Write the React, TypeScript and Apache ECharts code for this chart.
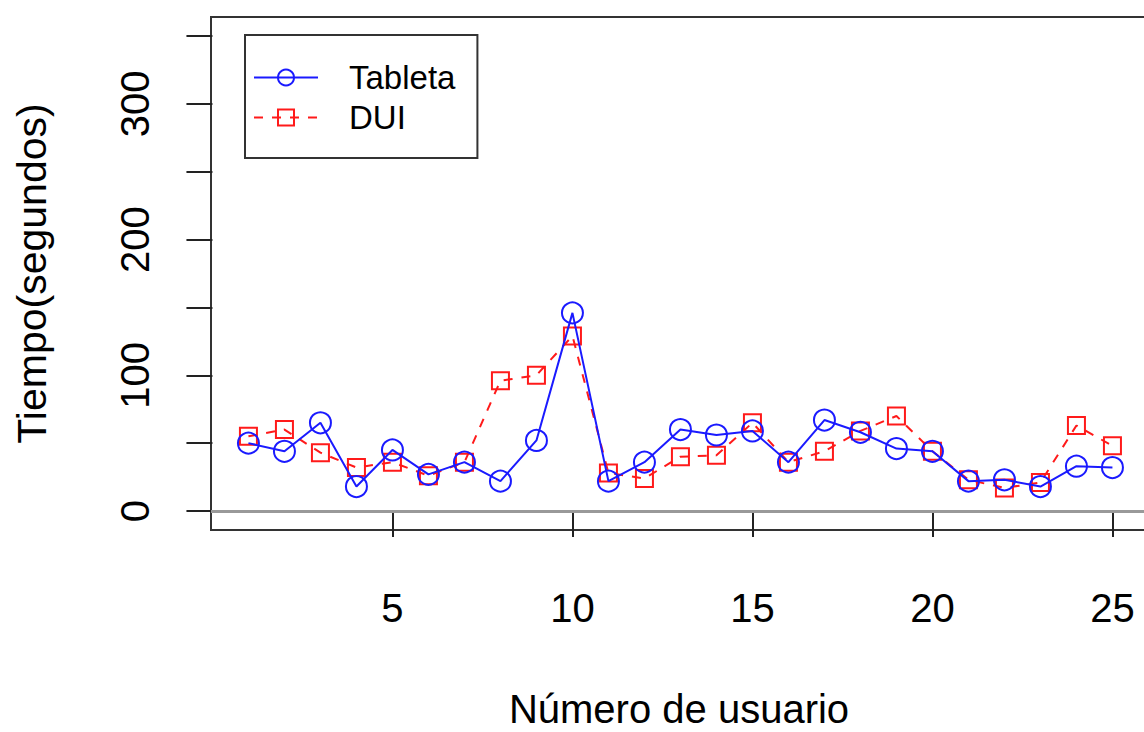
import React, { useEffect, useRef } from "react";
import * as echarts from "echarts";

const usuarios = [1,2,3,4,5,6,7,8,9,10,11,12,13,14,15,16,17,18,19,20,21,22,23,24,25];
const tableta = [50, 44, 65, 18, 45, 27, 36, 22, 52, 146, 22, 36, 60, 56, 59, 36, 67, 58, 46, 44, 22, 23, 18, 33, 32];
const dui = [55, 60, 43, 32, 36, 26, 36, 96, 100, 129, 28, 24, 40, 41, 65, 36, 44, 59, 70, 44, 23, 17, 21, 63, 48];
const xTicks = [5, 10, 15, 20, 25];
const yTicks = [0, 50, 100, 150, 200, 250, 300, 350];
const yLabels = [0, 100, 200, 300];

const FONT = "'Liberation Sans', Arial, Helvetica, sans-serif";

export default function App() {
  const ref = useRef<HTMLDivElement>(null);
  useEffect(() => {
    if (!ref.current) return;
    const chart = echarts.init(ref.current, undefined, { renderer: "svg" });
    const axisColor = "#222";
    chart.setOption({
      animation: false,
      backgroundColor: "#fff",
      textStyle: { fontFamily: FONT },
      grid: {
        left: 211,
        top: 17,
        width: 936,
        height: 513,
        show: true,
        borderColor: "#333",
        borderWidth: 2,
        backgroundColor: "transparent",
        outerBoundsMode: "none",
        containLabel: false,
      },
      legend: {
        orient: "vertical",
        left: 245,
        top: 35,
        padding: [26, 22, 24, 8],
        itemGap: 7,
        itemWidth: 64,
        itemHeight: 20,
        borderColor: "#333",
        borderWidth: 2,
        textStyle: { fontSize: 33, color: "#000", fontFamily: FONT, padding: [0, 0, 0, 26] },
        data: ["Tableta", "DUI"],
      },
      xAxis: {
        type: "value",
        min: -0.04,
        max: 25.96,
        name: "Número de usuario",
        nameLocation: "middle",
        nameGap: 159,
        nameTextStyle: { fontSize: 40, lineHeight: 40, color: "#000", fontFamily: FONT },
        axisLine: { show: false },
        splitLine: { show: false },
        axisTick: {
          show: true,
          length: 26,
          customValues: xTicks,
          lineStyle: { color: axisColor, width: 2 },
        },
        axisLabel: {
          show: true,
          customValues: xTicks,
          margin: 58,
          fontSize: 40,
          color: "#000",
          fontFamily: FONT,
        },
      },
      yAxis: {
        type: "value",
        min: -14,
        max: 364,
        name: "Tiempo(segundos)",
        nameLocation: "middle",
        nameRotate: 90,
        nameGap: 159,
        nameTextStyle: { fontSize: 41, color: "#000", fontFamily: FONT },
        axisLine: { show: false },
        splitLine: { show: false },
        axisTick: {
          show: true,
          length: 26,
          customValues: yTicks,
          lineStyle: { color: axisColor, width: 2 },
        },
        axisLabel: {
          show: true,
          customValues: yLabels,
          rotate: 90,
          margin: 56,
          fontSize: 40,
          color: "#000",
          fontFamily: FONT,
        },
      },
      series: [
        {
          name: "Tableta",
          type: "line",
          data: usuarios.map((u, i) => [u, tableta[i]]),
          symbol: "circle",
          symbolSize: 21,
          color: "#1a1aff",
          lineStyle: { color: "#1a1aff", width: 2 },
          itemStyle: { color: "rgba(255,255,255,0)", borderColor: "#1a1aff", borderWidth: 2 },
          z: 3,
          markLine: {
            silent: true,
            symbol: ["none", "none"],
            label: { show: false },
            lineStyle: { color: "#999", width: 3, type: "solid" },
            data: [{ yAxis: 0 }],
          },
        },
        {
          name: "DUI",
          type: "line",
          data: usuarios.map((u, i) => [u, dui[i]]),
          symbol: "rect",
          symbolSize: 17,
          color: "#ff1a1a",
          lineStyle: { color: "#ff1a1a", width: 2, type: [9, 9] },
          itemStyle: { color: "rgba(255,255,255,0)", borderColor: "#ff1a1a", borderWidth: 2 },
          z: 2,
        },
      ],
    });
    return () => chart.dispose();
  }, []);
  return (
    <div
      ref={ref}
      style={{ position: "absolute", left: 0, top: 0, width: 1144, height: 732 }}
    />
  );
}
